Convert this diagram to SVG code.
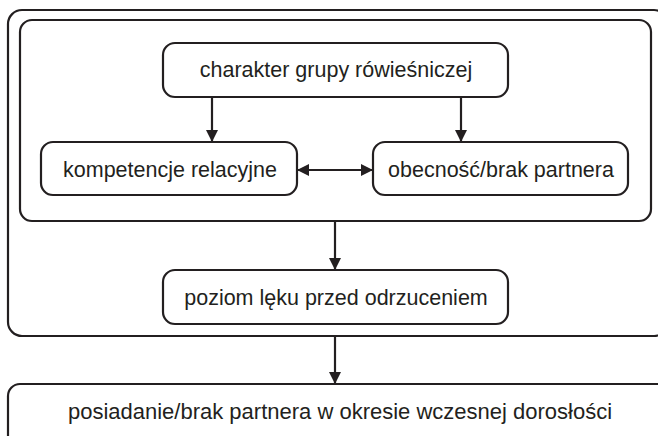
<svg xmlns="http://www.w3.org/2000/svg" width="658" height="436" viewBox="0 0 658 436">
<defs>
<marker id="ah" markerWidth="12" markerHeight="12" refX="11" refY="6" orient="auto" markerUnits="userSpaceOnUse">
<path d="M0,0 L12,6 L0,12 Z" fill="#231f20"/>
</marker>
<marker id="ahs" markerWidth="12" markerHeight="12" refX="1" refY="6" orient="auto" markerUnits="userSpaceOnUse">
<path d="M12,0 L0,6 L12,12 Z" fill="#231f20"/>
</marker>
</defs>
<style>
.box{fill:#fff;stroke:#231f20;stroke-width:2.2}
.frame{fill:none;stroke:#231f20;stroke-width:2.2}
.t{font-family:"Liberation Sans",Arial,sans-serif;font-size:21.5px;fill:#231f20;text-anchor:middle}
.c{stroke:#231f20;stroke-width:2.2;fill:none}
</style>
<rect width="658" height="436" fill="#fff"/>
<g id="outer"><rect class="frame" x="8" y="10" width="660" height="326" rx="14"/></g>
<g id="inner"><rect class="frame" x="20" y="20" width="631" height="201" rx="12"/></g>
<g id="connectors">
<line class="c" x1="212" y1="97" x2="212" y2="141" marker-end="url(#ah)"/>
<line class="c" x1="461" y1="97" x2="461" y2="141" marker-end="url(#ah)"/>
<line class="c" x1="298" y1="170" x2="372" y2="170" marker-start="url(#ahs)" marker-end="url(#ah)"/>
<line class="c" x1="335" y1="221" x2="335" y2="269" marker-end="url(#ah)"/>
<line class="c" x1="335" y1="336" x2="335" y2="383" marker-end="url(#ah)"/>
</g>
<g id="n1"><rect class="box" x="163" y="43" width="345" height="54" rx="12"/><text class="t" x="336" y="77">charakter grupy rówieśniczej</text></g>
<g id="n2"><rect class="box" x="41" y="142" width="256" height="53" rx="12"/><text class="t" x="170" y="177">kompetencje relacyjne</text></g>
<g id="n3"><rect class="box" x="373" y="142" width="255" height="53" rx="12"/><text class="t" x="501" y="177">obecność/brak partnera</text></g>
<g id="n4"><rect class="box" x="163" y="270" width="345" height="54" rx="12"/><text class="t" x="336" y="305">poziom lęku przed odrzuceniem</text></g>
<g id="n5"><rect class="box" x="8" y="384" width="670" height="70" rx="12"/><text class="t" x="340" y="419" style="font-size:22px">posiadanie/brak partnera w okresie wczesnej dorosłości</text></g>
</svg>
